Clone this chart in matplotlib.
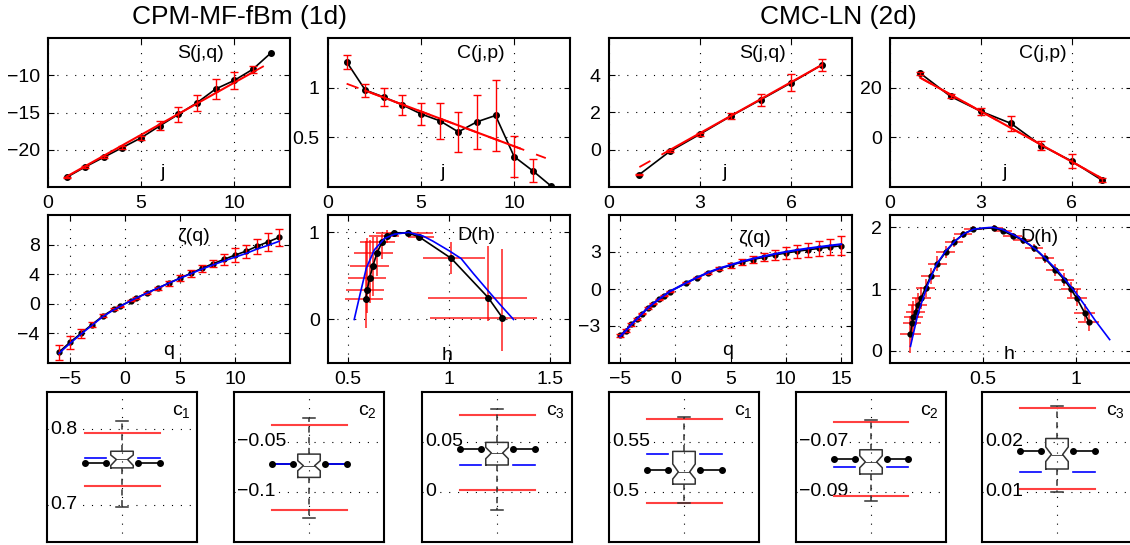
import numpy as np
import matplotlib
matplotlib.use('Agg')
import matplotlib.pyplot as plt

plt.rcParams['font.family'] = ['Liberation Sans', 'DejaVu Sans']
plt.rcParams['mathtext.default'] = 'regular'

# ---- structure functions S(j,q), 1d and 2d
j1 = [1, 2, 3, 4, 5, 6, 7, 8, 9, 10, 11, 12]
S1 = [-23.7, -22.3, -21.0, -19.7, -18.4, -16.8, -15.25, -13.7, -11.85, -10.7, -9.2, -6.95]
S1_err = [0.1, 0.1, 0.15, 0.2, 0.3, 0.6, 1.0, 1.1, 1.3, 1.1, 0.45]
S1_fit = (1.4, -25.0)          # slope, intercept
j2 = [1, 2, 3, 4, 5, 6, 7]
S2 = [-1.33, -0.09, 0.84, 1.8, 2.69, 3.6, 4.55]
S2_err = [0.05, 0.05, 0.08, 0.15, 0.33, 0.47, 0.3]
S2_fit = (0.913, -1.843)

# ---- C(j,p)
C1 = [1.26, 0.976, 0.905, 0.826, 0.735, 0.667, 0.555, 0.656, 0.72, 0.306, 0.163, 0.007]
C1_err = [0.07, 0.065, 0.09, 0.1, 0.11, 0.18, 0.2, 0.27, 0.36, 0.21, 0.115]
C1_fit = (-0.07, 1.11)
C2 = [25.8, 16.5, 10.5, 5.6, -3.3, -9.5, -17.2]
C2_err = [0.5, 0.8, 1.5, 3.1, 1.7, 2.7, 0.8]
C2_fit = (-6.75, 30.75)

# ---- zeta(q)
q1 = [-6, -5, -4, -3, -2, -1, -0.5, 0.5, 1, 2, 3, 4, 5, 6, 7, 8, 9, 10, 11, 12, 13, 14]
z1 = [-6.53, -5.2, -4.0, -2.8, -1.64, -0.71, -0.36, 0.4, 0.76, 1.47, 2.13, 2.8, 3.47,
      4.13, 4.8, 5.42, 6.0, 6.58, 7.11, 7.78, 8.36, 8.98]
z1_err = [1.02, 0.85, 0.62, 0.4, 0.2, 0.1, 0.08, 0.08, 0.1, 0.15, 0.2, 0.33, 0.44,
          0.5, 0.5, 0.5, 0.78, 0.9, 0.9, 1.0, 1.2, 1.13]
z1_th = [-6.7, -5.35, -4.1, -2.9, -1.72, -0.8, -0.4, 0.39, 0.76, 1.45, 2.13, 2.8, 3.45,
         4.07, 4.7, 5.25, 5.8, 6.3, 6.8, 7.4, 7.9, 8.44]
q2 = [-5, -4.5, -4, -3.5, -3, -2.5, -2, -1.5, -1, -0.5, 1, 2, 3, 4, 5, 6, 7, 8, 9, 10,
      11, 12, 13, 14, 15]
z2 = [-3.77, -3.37, -2.87, -2.44, -1.99, -1.54, -1.19, -0.85, -0.53, -0.21, 0.5, 0.93,
      1.33, 1.65, 1.91, 2.18, 2.39, 2.57, 2.76, 2.92, 3.05, 3.18, 3.29, 3.4, 3.5]
z2_err = [0.15, 0.1, 0.1, 0.08, 0.06, 0.05, 0.05, 0.05, 0.05, 0.05, 0.05, 0.06, 0.08,
          0.12, 0.17, 0.22, 0.27, 0.32, 0.38, 0.45, 0.5, 0.55, 0.62, 0.68, 0.78]
z2_th = [-3.85, -3.4, -2.9, -2.45, -2.0, -1.55, -1.18, -0.84, -0.52, -0.2, 0.5, 0.94,
         1.35, 1.68, 1.95, 2.22, 2.45, 2.65, 2.84, 3.01, 3.16, 3.29, 3.41, 3.52, 3.63]

# ---- D(h)
h1 = [0.587, 0.595, 0.606, 0.623, 0.643, 0.668, 0.691, 0.727, 0.799, 0.853, 1.011, 1.194, 1.265]
D1 = [0.237, 0.344, 0.473, 0.619, 0.764, 0.89, 0.962, 0.997, 0.993, 0.947, 0.702, 0.252, 0.019]
h1_lo = [0.104, 0.107, 0.106, 0.113, 0.113, 0.108, 0.09, 0.087, 0.092, 0.054, 0.141, 0.296, 0.359]
h1_hi = [0.087, 0.082, 0.084, 0.077, 0.077, 0.062, 0.06, 0.063, 0.124, 0.073, 0.166, 0.194, 0.169]
D1_lo = [0.34, 0.27, 0.28, 0.35, 0.27, 0.19, 0.08, 0.05, 0.02, 0.05, 0.175, 0.27, 0.38]
D1_hi = [0.67, 0.59, 0.44, 0.33, 0.18, 0.09, 0.06, 0.03, 0.02, 0.04, 0.184, 0.59, 0.79]
h1_th = [0.53, 0.56, 0.59, 0.63, 0.68, 0.73, 0.8, 0.87, 0.92, 1.0, 1.06, 1.12, 1.19, 1.25, 1.32]
D1_th = [0.0, 0.3, 0.59, 0.8, 0.93, 0.98, 1.0, 0.96, 0.9, 0.79, 0.7, 0.53, 0.34, 0.18, 0.0]

h2 = [0.110, 0.119, 0.126, 0.137, 0.149, 0.168, 0.191, 0.218, 0.254, 0.299, 0.343, 0.392,
      0.446, 0.559, 0.608, 0.659, 0.713, 0.774, 0.831, 0.887, 0.936, 0.973, 1.004, 1.045, 1.067]
D2 = [0.268, 0.456, 0.553, 0.633, 0.735, 0.858, 1.019, 1.206, 1.41, 1.598, 1.759, 1.887,
      1.968, 1.994, 1.94, 1.865, 1.796, 1.662, 1.502, 1.313, 1.153, 0.992, 0.847, 0.617, 0.472]
h2_err = [0.055, 0.05, 0.05, 0.05, 0.05, 0.05, 0.05, 0.05, 0.05, 0.05, 0.05, 0.05,
          0.05, 0.05, 0.05, 0.05, 0.05, 0.05, 0.05, 0.05, 0.055, 0.055, 0.055, 0.055, 0.055]
D2_err = [0.3, 0.28, 0.25, 0.22, 0.2, 0.18, 0.15, 0.13, 0.12, 0.1, 0.08, 0.06, 0.05,
          0.04, 0.04, 0.05, 0.06, 0.07, 0.08, 0.1, 0.11, 0.12, 0.13, 0.14, 0.15]
h2_th = [0.11, 0.15, 0.2, 0.25, 0.3, 0.35, 0.4, 0.45, 0.5, 0.55, 0.6, 0.65, 0.7, 0.75,
         0.8, 0.85, 0.9, 0.95, 1.0, 1.05, 1.1, 1.15, 1.18]
D2_th = [0.07, 0.6, 1.05, 1.4, 1.62, 1.78, 1.9, 1.97, 1.99, 2.0, 1.97, 1.9, 1.82, 1.72,
         1.6, 1.45, 1.3, 1.12, 0.93, 0.72, 0.5, 0.3, 0.18]

# ---- boxplots of c1, c2, c3
box_names = ['c$_1$', 'c$_2$', 'c$_3$', 'c$_1$', 'c$_2$', 'c$_3$']
box_med = [0.760, -0.0737, 0.039, 0.520, -0.078, 0.0175]
box_q1 = [0.7488, -0.0854, 0.027, 0.5079, -0.0828, 0.0146]
box_q3 = [0.771, -0.0621, 0.0496, 0.5406, -0.0731, 0.0207]
box_cilo = [0.752, -0.0787, 0.0333, 0.513, -0.0803, 0.0161]
box_cihi = [0.766, -0.0687, 0.0446, 0.528, -0.0755, 0.019]
box_wlo = [0.697, -0.126, -0.0177, 0.4887, -0.0934, 0.010]
box_whi = [0.811, -0.026, 0.083, 0.575, -0.0613, 0.0273]
box_red_hi = [0.795, -0.033, 0.0773, 0.573, -0.0618, 0.0269]
box_red_lo = [0.724, -0.1177, 0.002, 0.489, -0.0914, 0.0107]
box_blue = [0.7626, -0.072, 0.027, 0.538, -0.0799, 0.014]
box_black = [0.755, -0.072, 0.0433, 0.5223, -0.0768, 0.0183]
box_ylim = [(0.65, 0.85), (-0.15, 0), (-0.05, 0.1), (0.45, 0.6), (-0.11, -0.05), (0, 0.03)]
box_yticks = [[0.7, 0.8], [-0.1, -0.05], [0, 0.05], [0.5, 0.55], [-0.09, -0.07], [0.01, 0.02]]
box_ylabels = [['0.7', '0.8'], ['\u22120.1', '\u22120.05'], ['0', '0.05'], ['0.5', '0.55'],
               ['\u22120.09', '\u22120.07'], ['0.01', '0.02']]

W, H = 1130, 545
fig = plt.figure(figsize=(W / 100, H / 100), dpi=100)
FS = 14
GRID = dict(linestyle=(0, (1, 7)), color='k', linewidth=0.8)


def axes_px(x, y, w, h):
    return fig.add_axes([x / W, (H - y - h) / H, w / W, h / H])


def style(ax):
    ax.grid(True, **GRID)
    ax.tick_params(direction='in', top=True, right=True, length=4, labelsize=FS, pad=6)
    for s in ax.spines.values():
        s.set_linewidth(1.5)


def fit(ax, p, solid, dashed):
    xd = np.array(dashed)
    ax.plot(xd, np.polyval(p, xd), color='r', lw=1.3, dashes=(7, 7), zorder=3)
    xs = np.array(solid)
    ax.plot(xs, np.polyval(p, xs), color='r', lw=1.5, zorder=3)


def label(ax, top, bottom, ty=0.865, bx=0.475, by=0.065, tx=0.63):
    ax.text(tx, ty, top, transform=ax.transAxes, fontsize=FS, ha='center', va='baseline')
    ax.text(bx, by, bottom, transform=ax.transAxes, fontsize=FS, ha='center', va='baseline')


cols = [48, 328, 609, 890]

# top row
ax = axes_px(cols[0], 38, 242, 149)
ax.plot(j1, S1, 'k.-', lw=1.2, ms=8, zorder=2)
fit(ax, S1_fit, [1, 11], [11, 12])
ax.errorbar(j1[:11], S1[:11], yerr=S1_err, fmt='none', ecolor='r', elinewidth=1, capsize=3, zorder=3)
ax.set_xlim(0, 13); ax.set_ylim(-25, -5)
ax.set_xticks([0, 5, 10]); ax.set_yticks([-20, -15, -10])
style(ax); label(ax, 'S(j,q)', 'j')

ax = axes_px(cols[1], 38, 242, 149)
ax.plot(j1, C1, 'k.-', lw=1.2, ms=8, zorder=2)
fit(ax, C1_fit, [2, 10.3], [1, 11.7])
ax.errorbar(j1[:11], C1[:11], yerr=C1_err, fmt='none', ecolor='r', elinewidth=1, capsize=3, zorder=3)
ax.set_xlim(0, 13); ax.set_ylim(0, 1.5)
ax.set_xticks([0, 5, 10]); ax.set_yticks([0.5, 1]); ax.set_yticklabels(['0.5', '1'])
style(ax); label(ax, 'C(j,p)', 'j')

ax = axes_px(cols[2], 38, 243, 149)
ax.plot(j2, S2, 'k.-', lw=1.2, ms=8, zorder=2)
fit(ax, S2_fit, [2, 7], [1, 2])
ax.errorbar(j2, S2, yerr=S2_err, fmt='none', ecolor='r', elinewidth=1, capsize=3, zorder=3)
ax.set_xlim(0, 8); ax.set_ylim(-2, 6)
ax.set_xticks([0, 3, 6]); ax.set_yticks([0, 2, 4])
style(ax); label(ax, 'S(j,q)', 'j')

ax = axes_px(cols[3], 38, 242, 149)
ax.plot(j2, C2, 'k.-', lw=1.2, ms=8, zorder=2)
fit(ax, C2_fit, [1, 7], [1, 7])
ax.errorbar(j2, C2, yerr=C2_err, fmt='none', ecolor='r', elinewidth=1, capsize=3, zorder=3)
ax.set_xlim(0, 8); ax.set_ylim(-20, 40)
ax.set_xticks([0, 3, 6]); ax.set_yticks([0, 20])
style(ax); label(ax, 'C(j,p)', 'j')

# middle row
ax = axes_px(cols[0], 215, 242, 148)
ax.plot(q1, z1, 'k.-', lw=1.2, ms=7, zorder=2)
ax.errorbar(q1, z1, yerr=z1_err, fmt='none', ecolor='r', elinewidth=1, capsize=3, zorder=3)
ax.plot(q1, z1_th, color='b', lw=1.2, zorder=4)
ax.set_xlim(-7, 15); ax.set_ylim(-8, 12)
ax.set_xticks([-5, 0, 5, 10]); ax.set_yticks([-4, 0, 4, 8])
style(ax); label(ax, '\u03b6(q)', 'q', tx=0.6, ty=0.826, bx=0.497, by=0.054)

ax = axes_px(cols[1], 215, 242, 148)
ax.errorbar(h1, D1, xerr=[h1_lo, h1_hi], yerr=[D1_lo, D1_hi], fmt='none', ecolor='r',
            elinewidth=1.3, alpha=0.75, zorder=2)
ax.plot(h1, D1, 'k.-', lw=1.2, ms=8, zorder=3)
ax.plot(h1_th, D1_th, color='b', lw=1.2, zorder=4)
ax.set_xlim(0.4, 1.6); ax.set_ylim(-0.5, 1.2)
ax.set_xticks([0.5, 1, 1.5]); ax.set_xticklabels(['0.5', '1', '1.5'])
ax.set_yticks([0, 1])
style(ax); label(ax, 'D(h)', 'h', tx=0.614, ty=0.83, bx=0.49, by=0.02)

ax = axes_px(cols[2], 215, 243, 148)
ax.plot(q2, z2, 'k.-', lw=1.2, ms=7, zorder=2)
ax.errorbar(q2, z2, yerr=z2_err, fmt='none', ecolor='r', elinewidth=1, capsize=3, zorder=3)
ax.plot(q2, z2_th, color='b', lw=1.5, zorder=4)
ax.set_xlim(-6, 16); ax.set_ylim(-6, 6)
ax.set_xticks([-5, 0, 5, 10, 15]); ax.set_yticks([-3, 0, 3])
style(ax); label(ax, '\u03b6(q)', 'q', tx=0.6, ty=0.81, bx=0.49, by=0.054)

ax = axes_px(cols[3], 215, 242, 148)
ax.errorbar(h2, D2, xerr=h2_err, yerr=D2_err, fmt='none', ecolor='r',
            elinewidth=1.3, alpha=0.75, zorder=2)
ax.plot(h2, D2, 'k.-', lw=1.2, ms=7, zorder=3)
ax.plot(h2_th, D2_th, color='b', lw=1.2, zorder=4)
ax.set_xlim(0, 1.3); ax.set_ylim(-0.2, 2.2)
ax.set_xticks([0.5, 1]); ax.set_xticklabels(['0.5', '1'])
ax.set_yticks([0, 1, 2])
style(ax); label(ax, 'D(h)', 'h', tx=0.617, ty=0.82, bx=0.49, by=0.025)

# bottom row: boxplots
box_x = [47, 234, 422, 609, 796, 982]
for i in range(6):
    ax = axes_px(box_x[i], 392, 150, 150)
    ax.set_axisbelow(True)
    st = dict(med=box_med[i], q1=box_q1[i], q3=box_q3[i], cilo=box_cilo[i],
              cihi=box_cihi[i], whislo=box_wlo[i], whishi=box_whi[i], fliers=[])
    gray = '#333333'
    ax.bxp([st], positions=[1], widths=0.3, shownotches=True, capwidths=0.16,
           boxprops=dict(color=gray, lw=1.1), whiskerprops=dict(color=gray, lw=1.1, dashes=(4, 3)),
           capprops=dict(color=gray, lw=1.1), medianprops=dict(color=gray, lw=0.6),
           manage_ticks=False, zorder=3)
    for y in (box_red_hi[i], box_red_lo[i]):
        ax.plot([0.5, 1.5], [y, y], color='#ff4040', lw=1.5, zorder=2)
    for xs in ([0.5, 0.79], [1.21, 1.5]):
        ax.plot(xs, [box_black[i]] * 2, color='k', lw=1.2, zorder=2)
        ax.plot(xs, [box_blue[i]] * 2, color='b', lw=1.2, zorder=2.5)
        ax.plot(xs, [box_black[i]] * 2, 'k.', ms=8, zorder=4)
    ax.set_xlim(0, 2); ax.set_ylim(*box_ylim[i])
    ax.set_xticks([1]); ax.set_yticks(box_yticks[i])
    ax.set_xticklabels([]); ax.set_yticklabels([])
    ax.tick_params(length=0)
    ax.grid(True, **GRID)
    for s in ax.spines.values():
        s.set_linewidth(1.5)
    for v, t in zip(box_yticks[i], box_ylabels[i]):
        ax.text(0.02, v, t, transform=ax.get_yaxis_transform(), fontsize=FS, ha='left',
                va='center', zorder=1, bbox=dict(fc='white', ec='none', pad=0))
    ax.text(0.83, 0.87, box_names[i], transform=ax.transAxes, fontsize=FS, ha='left', va='center')

fig.text(240 / W, 1 - 17 / H, 'CPM-MF-fBm (1d)', fontsize=19, ha='center', va='center')
fig.text(838 / W, 1 - 17 / H, 'CMC-LN (2d)', fontsize=19, ha='center', va='center')

fig.savefig('out.png', dpi=100)
